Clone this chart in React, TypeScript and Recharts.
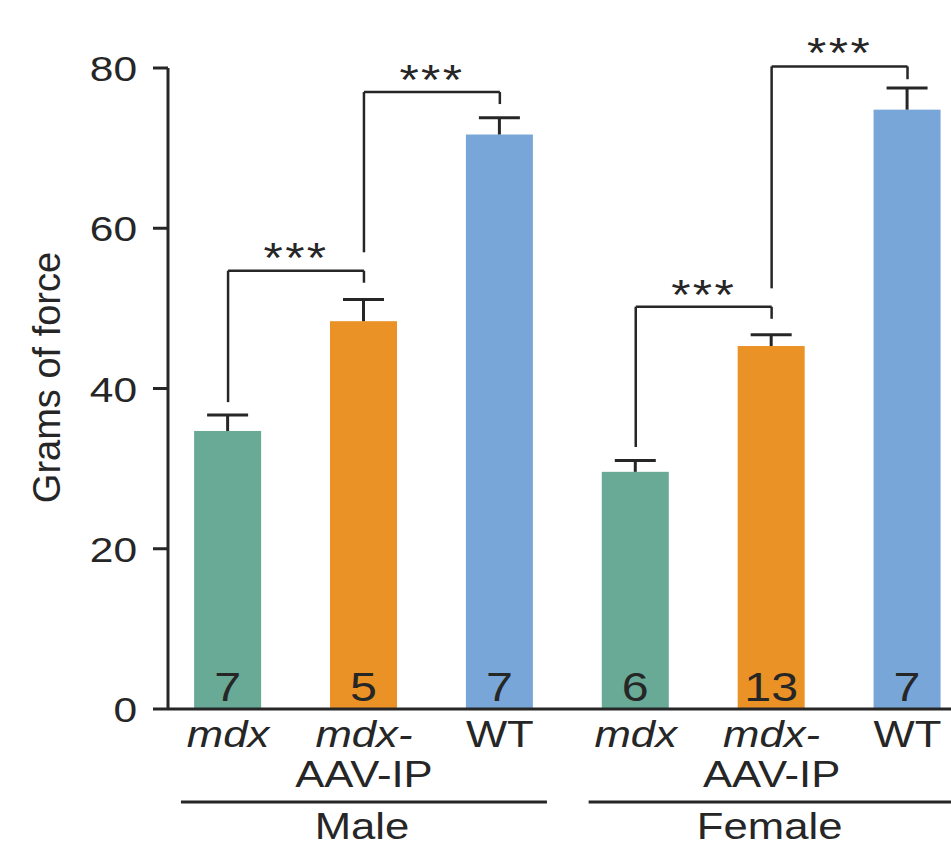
import React from 'react';
import { BarChart, Bar, XAxis, YAxis, ReferenceLine, ReferenceDot } from 'recharts';

const categories: string[] = ['mdx', 'mdx-AAV-IP', 'WT', 'mdx', 'mdx-AAV-IP', 'WT'];
const positions: number[] = [0, 1, 2, 3, 4, 5];
const means: number[] = [34.7, 48.4, 71.7, 29.6, 45.3, 74.8];
const upper: number[] = [36.7, 51.1, 73.8, 31.0, 46.7, 77.5];
const counts: number[] = [7, 5, 7, 6, 13, 7];
const sexes: string[] = ['Male', 'Female'];
const yTicks: number[] = [0, 20, 40, 60, 80];

// significance brackets: from bar -> to bar, leg ends and top height
const bracketFrom: number[] = [0, 1, 3, 4];
const bracketTo: number[] = [1, 2, 4, 5];
const bracketFromY: number[] = [38.3, 57.0, 32.7, 52.5];
const bracketTop: number[] = [54.7, 77.0, 50.2, 80.2];
const bracketToY: number[] = [53.2, 75.5, 48.7, 78.6];
const bracketStarY: number[] = [57.5, 79.7, 52.9, 83.1];

const colors: string[] = ['#69aa97', '#ea9226', '#78a6d9', '#69aa97', '#ea9226', '#78a6d9'];
const ink = '#262626';
const font = '"Liberation Sans", Arial, sans-serif';
const stretch = 1.18; // the figure's lettering is a bit wider than Liberation Sans

// text drawn slightly stretched horizontally around its anchor point
const SText = ({ x, y, size, anchor = 'middle', italic = false, spacing = 0, children }: any) => (
  <text
    transform={`translate(${x} ${y}) scale(${stretch} 1)`}
    textAnchor={anchor}
    fontSize={size}
    fontStyle={italic ? 'italic' : 'normal'}
    letterSpacing={spacing}
    fontFamily={font}
    fill={ink}
  >
    {children}
  </text>
);

const data = positions.map((p, i) => ({
  pos: p,
  name: categories[i],
  value: means[i],
  upper: upper[i],
  n: counts[i],
  color: colors[i],
}));

const BarWithError = (props: any) => {
  const { x, y, width, height, payload } = props;
  const perUnit = height / payload.value;
  const errTop = y - (payload.upper - payload.value) * perUnit;
  const cx = x + width / 2;
  return (
    <g>
      <rect x={x} y={y} width={width} height={height} fill={payload.color} />
      <line x1={cx} x2={cx} y1={y} y2={errTop} stroke={ink} strokeWidth={3} />
      <line x1={cx - 20.5} x2={cx + 20.5} y1={errTop} y2={errTop} stroke={ink} strokeWidth={3} />
      <SText x={cx} y={y + height - 8} size={41}>
        {payload.n}
      </SText>
    </g>
  );
};

const CategoryTick = (props: any) => {
  const { x, y, payload } = props;
  const i = positions.indexOf(payload.value);
  if (i < 0) return null;
  const name = categories[i];
  const isAav = name.indexOf('AAV') >= 0;
  const isMdx = name.startsWith('mdx');
  return (
    <g>
      <SText x={x} y={y + 38} size={37} italic={isMdx}>
        {isAav ? 'mdx-' : name}
      </SText>
      {isAav && (
        <SText x={x} y={y + 78} size={37}>
          AAV-IP
        </SText>
      )}
      {i % 3 === 1 && (
        <g>
          <line x1={x - 183} x2={x + 183} y1={y + 93} y2={y + 93} stroke={ink} strokeWidth={3} />
          <SText x={x - 2} y={y + 130} size={37}>
            {sexes[Math.floor(i / 3)]}
          </SText>
        </g>
      )}
    </g>
  );
};

const ValueTick = (props: any) => {
  const { x, y, payload } = props;
  return (
    <SText x={x} y={y + 13} size={36} anchor="end">
      {payload.value}
    </SText>
  );
};

const App = () => {
  return (
    <div style={{ position: 'absolute', left: 0, top: 0, width: 951, height: 849, overflow: 'hidden', background: '#fff' }}>
      <BarChart width={951} height={849} data={data} margin={{ top: 68, right: 0, left: 0, bottom: 0 }}>
        <XAxis
          dataKey="pos"
          type="number"
          domain={[-0.442, 5.32]}
          allowDataOverflow
          ticks={positions}
          interval={0}
          tickLine={false}
          tickSize={0}
          tickMargin={0}
          height={140}
          axisLine={{ stroke: ink, strokeWidth: 3 }}
          tick={<CategoryTick />}
        />
        <YAxis
          type="number"
          domain={[0, 80]}
          ticks={yTicks}
          width={168}
          tickSize={15}
          tickMargin={16}
          axisLine={{ stroke: ink, strokeWidth: 3 }}
          tickLine={{ stroke: ink, strokeWidth: 3 }}
          tick={<ValueTick />}
          label={{
            content: (p: any) => {
              const vb = p.viewBox || { y: 68, height: 641 };
              const cy = vb.y + vb.height / 2 - 11;
              return (
                <text
                  x={60}
                  y={cy}
                  transform={`rotate(-90 60 ${cy})`}
                  textAnchor="middle"
                  fontSize={38}
                  fontFamily={font}
                  fill={ink}
                >
                  Grams of force
                </text>
              );
            },
          }}
        />
        <Bar dataKey="value" barSize={67} isAnimationActive={false} shape={<BarWithError />} />
        {bracketFrom.map((f, k) => (
          <ReferenceLine
            key={`l${k}`}
            ifOverflow="visible"
            stroke={ink}
            strokeWidth={2.5}
            segment={[
              { x: f, y: bracketFromY[k] },
              { x: f, y: bracketTop[k] },
            ]}
          />
        ))}
        {bracketFrom.map((f, k) => (
          <ReferenceLine
            key={`t${k}`}
            ifOverflow="visible"
            stroke={ink}
            strokeWidth={2.5}
            segment={[
              { x: f, y: bracketTop[k] },
              { x: bracketTo[k], y: bracketTop[k] },
            ]}
          />
        ))}
        {bracketTo.map((t, k) => (
          <ReferenceLine
            key={`r${k}`}
            ifOverflow="visible"
            stroke={ink}
            strokeWidth={2.5}
            segment={[
              { x: t, y: bracketToY[k] },
              { x: t, y: bracketTop[k] },
            ]}
          />
        ))}
        {bracketFrom.map((f, k) => (
          <ReferenceDot
            key={`s${k}`}
            x={(f + bracketTo[k]) / 2}
            y={bracketStarY[k]}
            ifOverflow="visible"
            shape={(p: any) => (
              <SText x={p.cx} y={p.cy + 24} size={42} spacing={2}>
                ***
              </SText>
            )}
          />
        ))}
      </BarChart>
    </div>
  );
};

export default App;
